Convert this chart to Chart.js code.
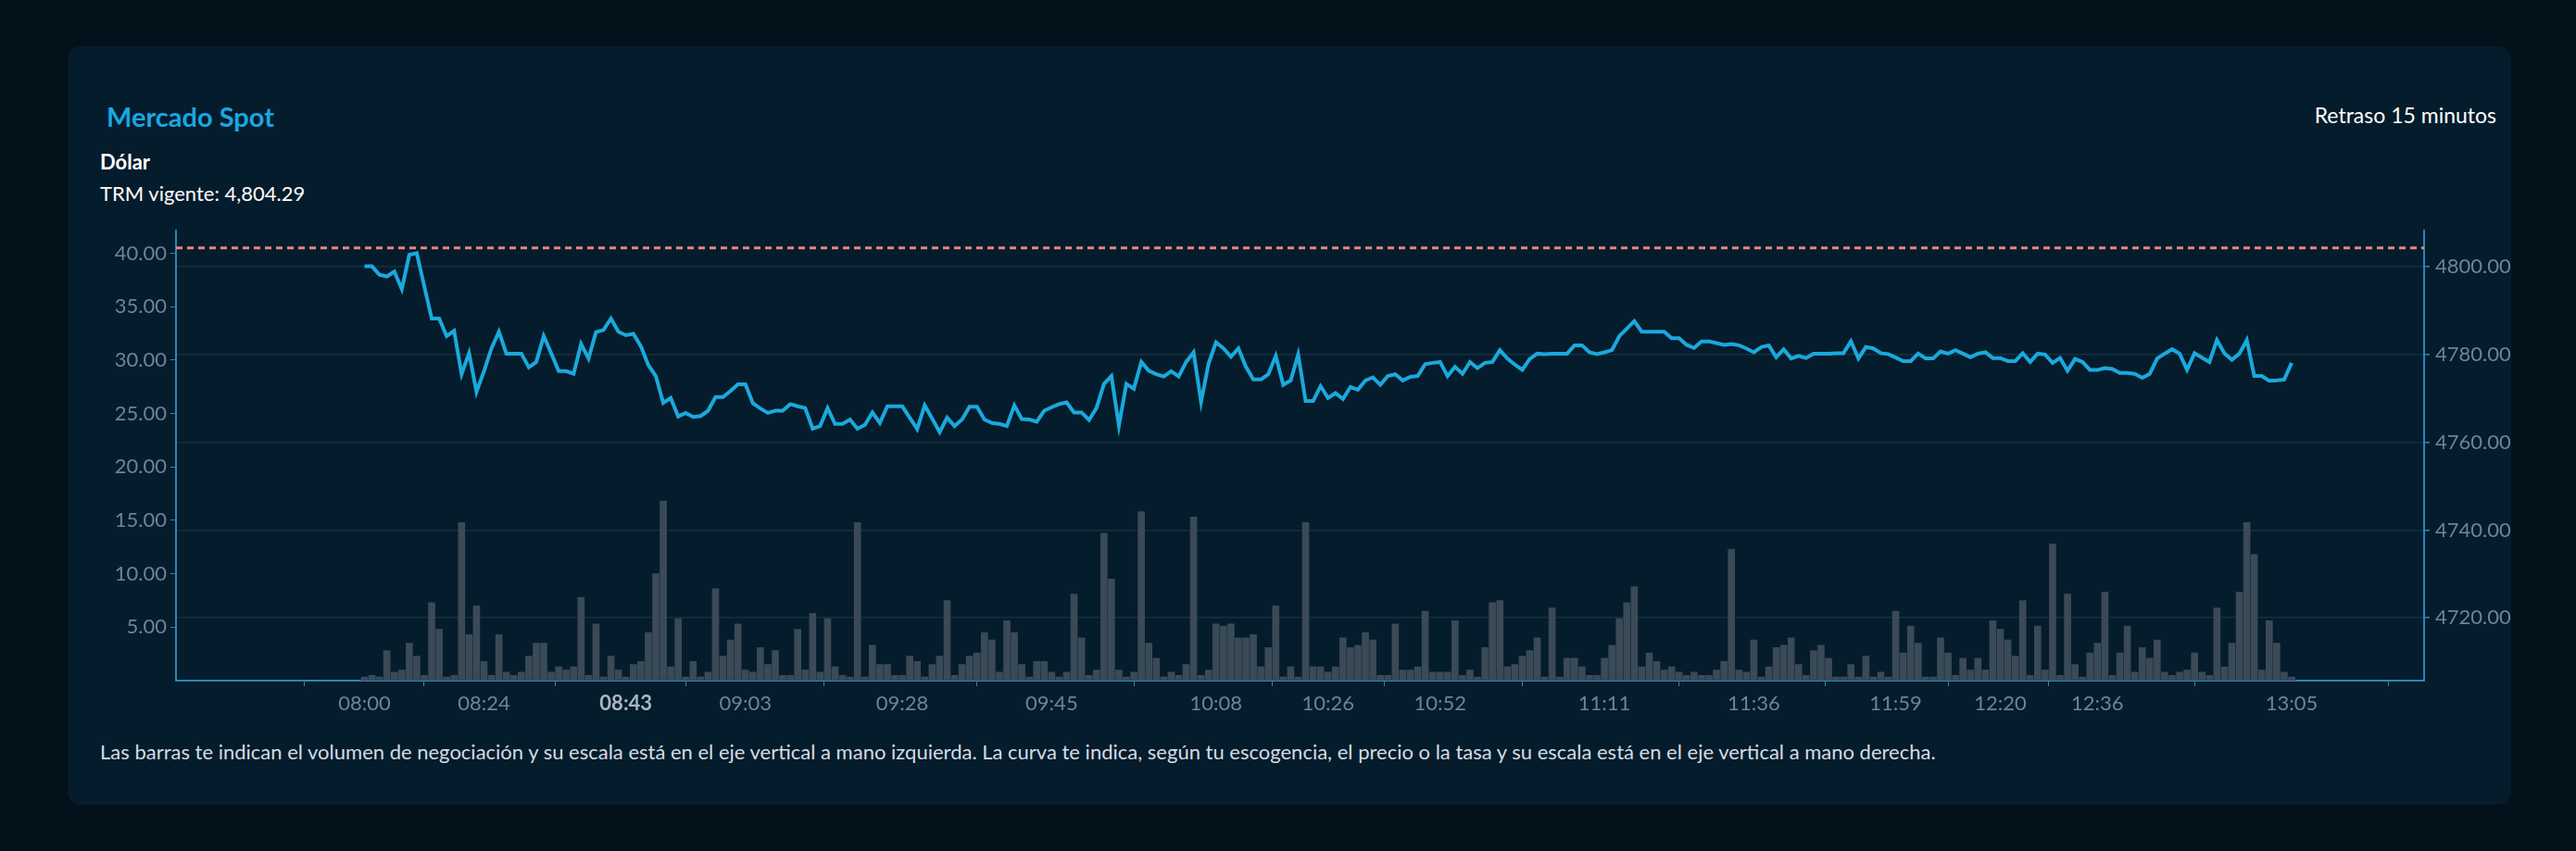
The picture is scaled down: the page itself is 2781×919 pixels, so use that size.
<!DOCTYPE html>
<html>
<head>
<meta charset="utf-8">
<script src="https://cdn.jsdelivr.net/npm/chart.js@4.4.1/dist/chart.umd.min.js"></script>
<style>
html,body{margin:0;padding:0;background:#03111b;width:2781px;height:919px;overflow:hidden;font-family:Lato,"Open Sans",sans-serif;}
.card{position:absolute;left:73px;top:50px;width:2638px;height:819px;background:#051c2c;border-radius:14px;}
.title{position:absolute;left:115px;top:108px;color:#1aa7e0;font-size:29px;font-weight:bold;}
.delay{position:absolute;right:86px;top:110px;color:#fff;font-size:23px;}
.cur{position:absolute;left:108px;top:161px;color:#fff;font-size:22px;font-weight:bold;}
.trm{position:absolute;left:108px;top:195px;color:#fff;font-size:22px;}
.note{position:absolute;left:108px;top:798px;color:#d4dce2;font-size:22px;}
#wrap{position:absolute;left:100px;top:230px;width:2620px;height:560px;}
</style>
</head>
<body>
<div class="card"></div>
<div class="title">Mercado Spot</div>
<div class="delay">Retraso 15 minutos</div>
<div class="cur">Dólar</div>
<div class="trm">TRM vigente: 4,804.29</div>
<div class="note">Las barras te indican el volumen de negociación y su escala está en el eje vertical a mano izquierda. La curva te indica, según tu escogencia, el precio o la tasa y su escala está en el eje vertical a mano derecha.</div>
<div id="wrap"><canvas id="spot"></canvas></div>
<script>
// volumen negociado (eje izquierdo)
const volumen = [
0.35,0.5,0.35,2.8,0.8,1.0,3.5,2.3,0.5,7.3,4.8,0.35,0.5,14.8,4.3,7.0,1.8,0.5,4.3,0.8,0.5,0.8,2.3,3.5,3.5,0.8,1.3,1.0,1.3,7.8,0.5,5.3,0.35,
2.3,1.0,0.35,1.5,1.8,4.5,10.0,16.8,1.3,5.8,0.35,1.8,0.35,0.8,8.6,2.3,3.8,5.3,1.0,0.8,3.1,1.5,2.8,0.5,0.5,4.8,1.0,6.3,0.8,5.8,1.3,0.5,0.35,
14.8,0.35,3.3,1.5,1.5,0.5,0.5,2.3,1.8,0.35,1.5,2.3,7.5,0.5,1.5,2.3,2.6,4.5,3.8,0.8,5.6,4.5,1.5,0.35,1.8,1.8,0.8,0.35,0.8,8.1,4.0,0.5,1.0,13.8,
9.5,1.0,0.35,0.8,15.8,3.5,2.1,0.35,0.8,0.5,1.5,15.3,0.5,1.0,5.3,5.1,5.3,4.0,4.0,4.3,1.3,3.1,7.0,0.35,1.3,0.35,14.8,1.3,1.3,0.8,1.3,4.0,3.1,
3.3,4.5,3.8,0.5,0.5,5.3,1.0,1.0,1.3,6.5,0.8,0.8,0.8,5.6,0.5,1.0,0.35,3.1,7.3,7.5,1.3,1.5,2.3,2.8,4.0,0.35,6.8,0.35,2.1,2.1,1.3,0.5,0.5,2.1,
3.3,5.8,7.3,8.8,1.3,2.6,1.8,1.0,1.3,0.8,0.5,0.8,0.5,0.5,1.0,1.8,12.3,1.0,0.8,3.8,0.35,1.3,3.1,3.3,4.0,1.5,0.5,2.8,3.3,2.1,0.35,0.35,1.5,
0.35,2.3,0.35,0.8,0.35,6.5,2.6,5.1,3.5,0.35,0.35,4.0,2.6,0.5,2.1,1.0,2.1,1.0,5.6,4.8,3.8,2.3,7.5,0.5,5.1,1.0,12.8,0.5,8.1,1.5,0.35,2.6,3.5,8.3,
0.5,2.6,5.1,0.8,3.1,2.1,3.8,0.8,0.5,0.8,1.0,2.6,0.8,0.5,6.8,1.3,3.5,8.3,14.8,11.8,1.0,5.6,3.5,0.8,0.35
];

// precio (eje derecho)
const precio = [
4800.1,4800.1,4798.2,4797.8,4798.9,4794.9,4802.7,4803.1,4795.6,4788.2,4788.2,4784.2,4785.4,4775.5,4780.3,4771.5,4776.2,4781.4,4785.2,4780.2,4780.2,4780.2,4777.1,4778.3,4784.2,4780.3,4776.2,4776.2,4775.6,4782.4,4779.1,4785.1,4785.6,
4788.2,4785.2,4784.4,4784.7,4781.9,4777.6,4775.1,4769.0,4770.1,4765.9,4766.7,4765.8,4766.0,4767.2,4770.3,4770.3,4771.7,4773.2,4773.2,4768.9,4767.7,4766.7,4767.2,4767.2,4768.7,4768.2,4767.8,4763.1,4763.7,4767.8,4764.2,4764.2,4765.2,
4763.1,4764.0,4766.8,4764.4,4768.2,4768.2,4768.2,4765.6,4763.0,4768.4,4765.4,4762.3,4765.6,4763.7,4765.2,4768.1,4768.1,4765.2,4764.4,4764.2,4763.7,4768.4,4765.3,4765.2,4764.7,4767.2,4768.0,4768.7,4769.1,4766.8,4766.8,4765.1,4767.8,4773.3,
4775.1,4763.8,4773.3,4772.2,4778.3,4776.3,4775.5,4775.0,4776.2,4775.0,4778.3,4780.5,4769.2,4777.9,4782.8,4781.4,4779.5,4781.4,4777.2,4774.3,4774.3,4775.5,4779.7,4773.1,4774.1,4780.0,4769.4,4769.4,4772.8,4770.1,4771.2,4769.9,4772.6,
4772.0,4774.1,4774.8,4773.1,4775.1,4775.5,4774.1,4774.9,4775.1,4777.8,4778.1,4778.3,4775.1,4777.2,4775.6,4778.3,4776.9,4778.1,4778.3,4781.0,4779.1,4777.7,4776.5,4779.0,4780.2,4780.1,4780.2,4780.2,4780.2,4782.1,4782.1,4780.5,4780.1,4780.5,
4781.0,4784.2,4785.9,4787.6,4785.2,4785.2,4785.2,4785.2,4783.7,4783.7,4782.2,4781.5,4783.0,4783.0,4782.6,4782.2,4782.4,4782.1,4781.4,4780.5,4781.7,4782.1,4779.4,4781.2,4779.1,4779.7,4779.2,4780.2,4780.2,4780.2,4780.3,4780.3,4783.0,
4779.1,4781.7,4781.4,4780.3,4780.1,4779.3,4778.5,4778.5,4780.2,4779.1,4779.1,4780.7,4780.2,4781.0,4780.2,4779.4,4780.2,4780.5,4779.2,4779.2,4778.5,4778.5,4780.3,4778.3,4780.2,4780.0,4778.1,4779.2,4776.3,4779.0,4778.3,4776.5,4776.5,4776.9,
4776.7,4775.8,4775.8,4775.6,4774.7,4775.6,4779.1,4780.2,4781.2,4780.2,4776.5,4780.3,4779.3,4778.3,4783.3,4780.3,4778.8,4780.2,4783.3,4775.1,4775.1,4774.0,4774.1,4774.3,4778.1
];

// etiquetas del eje de tiempo y su posición (índice de la muestra)
const horas = ["08:00","08:24","08:43","09:03","09:28","09:45","10:08","10:26","10:52","11:11","11:36","11:59","12:20","12:36","13:05"];
const horaIdx = [0,16,35,51,72,92,114,129,144,166,186,205,219,232,258];
const horaActual = "08:43";
const volTicks = [5,10,15,20,25,30,35,40];
const precioTicks = [4720,4740,4760,4780,4800];
const trm = 4804.29;

const azulEje = "#2a86b8";
const tickTxt = "#6b8595";

function esActual(c){
  return !!(c && c.tick && horas[horaIdx.indexOf(c.tick.value)] === horaActual);
}

const lineaTrm = {
  id: "lineaTrm",
  afterDatasetsDraw(chart){
    const ctx = chart.ctx, a = chart.chartArea;
    const y = chart.scales.y1.getPixelForValue(trm);
    ctx.save();
    ctx.strokeStyle = "#e8857c";
    ctx.lineWidth = 3;
    ctx.setLineDash([7,5]);
    ctx.beginPath(); ctx.moveTo(a.left, y); ctx.lineTo(a.right, y); ctx.stroke();
    ctx.restore();
  }
};

new Chart(document.getElementById("spot"), {
  type: "bar",
  data: {
    datasets: [
      {
        type: "line",
        data: precio.map((v,i)=>({x:i, y:v})),
        yAxisID: "y1",
        borderColor: "#1aa9dc",
        borderWidth: 4,
        pointRadius: 0,
        tension: 0,
        order: 0
      },
      {
        data: volumen.map((v,i)=>({x:i, y:v})),
        yAxisID: "y",
        backgroundColor: "#3a4a57",
        barThickness: 7,
        order: 1
      }
    ]
  },
  plugins: [lineaTrm],
  options: {
    responsive: true,
    maintainAspectRatio: false,
    animation: false,
    layout: { padding: { top: 13, left: 0, right: 0, bottom: 0 } },
    plugins: { legend: { display: false }, tooltip: { enabled: false } },
    scales: {
      x: {
        type: "linear",
        min: -15.2,
        max: 265.7,
        afterBuildTicks: s => { s.ticks = horaIdx.map(v=>({value:v})); },
        afterFit: s => { s.height = 55; },
        border: { color: azulEje, width: 2 },
        grid: { drawOnChartArea: false, tickColor: azulEje, tickLength: 6 },
        ticks: {
          autoSkip: false,
          maxRotation: 0,
          padding: 6,
          callback: v => horas[horaIdx.indexOf(v)],
          color: c => esActual(c) ? "#a9b8c2" : tickTxt,
          font: c => ({ family: "Lato", size: 22, weight: esActual(c) ? "bold" : "normal" })
        }
      },
      y: {
        position: "left",
        min: 0,
        max: 42.1,
        afterBuildTicks: s => { s.ticks = volTicks.map(v=>({value:v})); },
        afterFit: s => { s.width = 90; },
        border: { color: azulEje, width: 2 },
        grid: { drawOnChartArea: false, tickColor: azulEje, tickLength: 6 },
        ticks: { color: tickTxt, font: { family: "Lato", size: 22 }, padding: 4, callback: v => v.toFixed(2) }
      },
      y1: {
        position: "right",
        min: 4705.7,
        max: 4808.2,
        afterBuildTicks: s => { s.ticks = precioTicks.map(v=>({value:v})); },
        afterFit: s => { s.width = 103; },
        border: { color: azulEje, width: 2 },
        grid: { color: "#143041", lineWidth: 1.5, tickColor: azulEje, tickLength: 6 },
        ticks: { color: tickTxt, font: { family: "Lato", size: 22 }, padding: 6, callback: v => v.toFixed(2) }
      }
    }
  }
});
</script>
</body>
</html>
